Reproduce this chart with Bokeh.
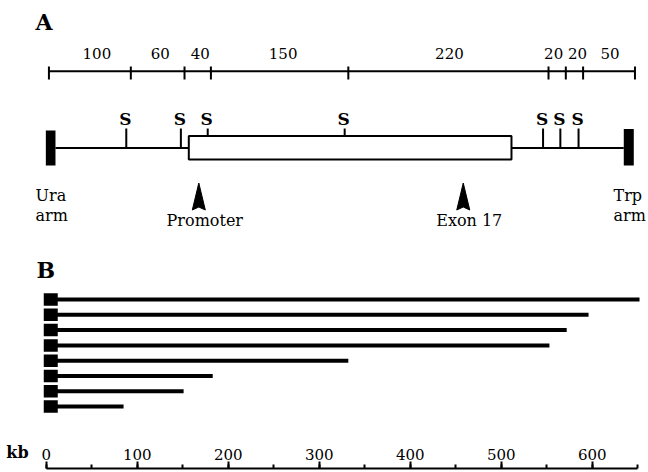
from bokeh.plotting import figure
from bokeh.models import Range1d, SingleIntervalTicker
from bokeh.embed import file_html
from bokeh.resources import INLINE
from bokeh.core.properties import value

# ---------------- data (kb) ----------------
segment_sizes = [100, 60, 40, 150, 220, 20, 20, 50]            # sizes written above the scale
scale_ticks_kb = [3, 93, 152, 181, 332, 552, 571, 590, 647]     # scale tick positions
s_sites_kb = [88, 148, 177.5, 328, 546, 565, 585]              # "S" restriction sites
gene_box_kb = [156.7, 511.3]                                    # gene (open box)
ura_arm_kb = [-0.4, 10.2]
trp_arm_kb = [634.7, 645.7]
arrow_kb = [167.7, 458.3]
arrow_labels = ["Promoter", "Exon 17"]
yac_lengths_kb = [652, 596, 572, 553, 332, 183, 151, 85]       # panel B fragments
axis_max_kb = 650

# ---------------- layout / style ----------------
FONT = "DejaVu Serif"
PX = 0.91                      # pixels per kb
ORIGIN = 45.7                  # pixel position of 0 kb
KB = 1 / PX                    # one pixel in kb
W, H = 648, 472
FRAME_H = 468
X0 = (0 - ORIGIN) / PX
X1 = (W - ORIGIN) / PX


def px(xpix):
    """horizontal pixel position -> kb coordinate"""
    return (xpix - ORIGIN) / PX


def base(y, fs):
    """compensate the svg text baseline shift"""
    return y - 0.4 * fs


p = figure(width=W, height=H, x_range=Range1d(X0, X1), y_range=Range1d(FRAME_H, 0),
           output_backend="svg", toolbar_location=None,
           min_border_left=0, min_border_right=0, min_border_top=0,
           min_border_bottom=H - FRAME_H,
           x_axis_location="below", y_axis_location=None, outline_line_color=None)
p.grid.visible = False
p.background_fill_color = "white"
p.border_fill_color = "white"

# panel letters
p.text(x=[px(35), px(36)], y=[base(30, 22), base(278, 22)], text=["A", "B"],
       text_font=value(FONT), text_font_style="bold", text_font_size="22px",
       text_baseline="alphabetic", text_align="left")

# ---- scale bar ----
SCALE_Y = 70.7
p.segment(x0=[scale_ticks_kb[0]], y0=[SCALE_Y], x1=[scale_ticks_kb[-1]], y1=[SCALE_Y],
          line_width=2, line_color="black")
p.segment(x0=scale_ticks_kb, y0=[66] * len(scale_ticks_kb), x1=scale_ticks_kb,
          y1=[79] * len(scale_ticks_kb), line_width=2, line_color="black")
mids = [(a + b) / 2 for a, b in zip(scale_ticks_kb[:-1], scale_ticks_kb[1:])]
label_nudge = [7, 2.5, 2.5, 3.5, 1, -3.5, 3, 1]
p.text(x=mids, y=[base(58.5, 15)] * len(mids), text=[str(s) for s in segment_sizes],
       x_offset=label_nudge, text_font=value(FONT), text_font_size="15px",
       text_align="center", text_baseline="alphabetic", text_color="black")

# ---- map ----
LINE_Y = 147.5
BOX_TOP, BOX_BOT = 135.5, 159
p.segment(x0=[ura_arm_kb[1]], y0=[LINE_Y], x1=[trp_arm_kb[0]], y1=[LINE_Y],
          line_width=2, line_color="black")
p.quad(left=[gene_box_kb[0]], right=[gene_box_kb[1]], top=[BOX_TOP], bottom=[BOX_BOT],
       fill_color="white", line_color="black", line_width=2)
p.quad(left=[ura_arm_kb[0]], right=[ura_arm_kb[1]], top=[130], bottom=[165],
       fill_color="black", line_color=None)
p.quad(left=[trp_arm_kb[0]], right=[trp_arm_kb[1]], top=[128.5], bottom=[165],
       fill_color="black", line_color=None)
s_end = [BOX_TOP if gene_box_kb[0] <= s <= gene_box_kb[1] else LINE_Y for s in s_sites_kb]
p.segment(x0=s_sites_kb, y0=[128] * len(s_sites_kb), x1=s_sites_kb, y1=s_end,
          line_width=2, line_color="black")
p.text(x=s_sites_kb, y=[base(125.5, 17)] * len(s_sites_kb), text=["S"] * len(s_sites_kb),
       text_font=value(FONT), text_font_style="bold", text_font_size="17px",
       text_align="center", text_baseline="alphabetic", x_offset=-1)

# arrowheads
HW = 6.5 * KB
xs = [[a - HW, a, a + HW, a] for a in arrow_kb]
ys = [[209.5, 182.5, 209.5, 206.5] for _ in arrow_kb]
p.patches(xs=xs, ys=ys, fill_color="black", line_color="black", line_width=1)
p.text(x=arrow_kb, y=[base(226.7, 16)] * 2, text=arrow_labels, text_font=value(FONT),
       text_font_size="16px", text_align="center", text_baseline="alphabetic", x_offset=6)

# arm labels
p.text(x=[px(35), px(35)], y=[base(201, 16), base(221.5, 16)], text=["Ura", "arm"],
       text_font=value(FONT), text_font_size="16px", text_align="left",
       text_baseline="alphabetic")
p.text(x=[px(613), px(613)], y=[base(201, 16), base(221.5, 16)], text=["Trp", "arm"],
       text_font=value(FONT), text_font_size="16px", text_align="left",
       text_baseline="alphabetic")

# ---- panel B ----
ROW_Y0, ROW_DY = 299, 15.3
row_y = [ROW_Y0 + i * ROW_DY for i in range(len(yac_lengths_kb))]
p.segment(x0=[0] * len(row_y), y0=row_y, x1=yac_lengths_kb, y1=row_y,
          line_width=4, line_color="black", line_cap="butt")
p.rect(x=[5] * len(row_y), y=row_y, width=14, height=12.5, width_units="screen",
       height_units="screen", fill_color="black", line_color=None)

# ---- bottom kb axis (labels drawn above its line) ----
ax = p.xaxis[0]
ax.ticker = SingleIntervalTicker(interval=100, num_minor_ticks=2)
ax.bounds = (0, axis_max_kb)
ax.major_tick_out = 0
ax.major_tick_in = 7
ax.minor_tick_out = 0
ax.minor_tick_in = 4
ax.axis_line_width = 2
ax.major_tick_line_width = 2
ax.minor_tick_line_width = 2
ax.axis_line_color = "black"
ax.major_tick_line_color = "black"
ax.minor_tick_line_color = "black"
ax.major_label_text_font = FONT
ax.major_label_text_font_size = "15px"
ax.major_label_text_color = "black"
ax.major_label_standoff = -20

p.text(x=[px(17)], y=[base(458.5, 16)], text=["kb"], text_font=value(FONT),
       text_font_style="bold", text_font_size="16px", text_align="center",
       text_baseline="alphabetic")

open("out.html", "w").write(file_html(p, INLINE))
